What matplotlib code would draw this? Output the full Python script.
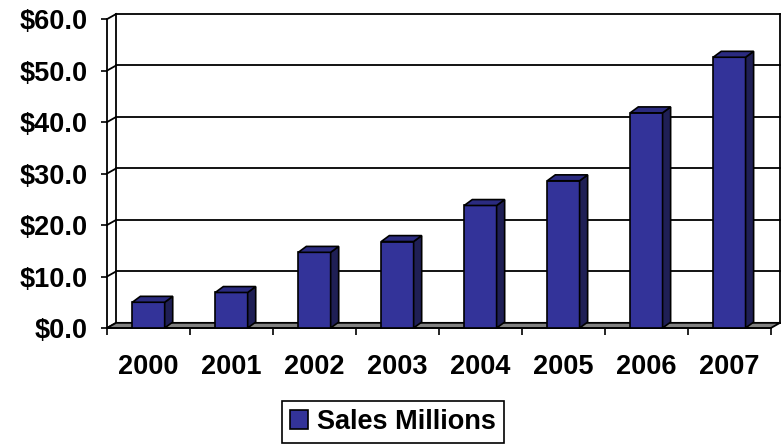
import numpy as np
import matplotlib
matplotlib.use('Agg')
import matplotlib.pyplot as plt
from matplotlib.patches import Polygon

years = ['2000', '2001', '2002', '2003', '2004', '2005', '2006', '2007']
sales = [5.0, 6.9, 14.7, 16.8, 23.8, 28.6, 41.8, 52.6]
y_ticks = [0, 10, 20, 30, 40, 50, 60]
y_labels = ['$0.0', '$10.0', '$20.0', '$30.0', '$40.0', '$50.0', '$60.0']

plt.rcParams['font.family'] = ['Liberation Sans', 'DejaVu Sans']
plt.rcParams['font.weight'] = 'bold'

fig = plt.figure(figsize=(7.82, 4.44), dpi=100)
ax = fig.add_axes([107 / 782, 1 - 328 / 444, (780 - 107) / 782, (328 - 14) / 444])

# fake 3d offsets (wall depth and bar depth)
dx, dy = 0.11, 1.0
bdx, bdy = 0.097, 1.15
bar_w = 0.39

x = np.arange(len(years))
x0, x1 = -0.5, len(years) - 0.5
ax.set_xlim(x0, x1 + dx)
ax.set_ylim(0, y_ticks[-1] + dy)
for s in ax.spines.values():
    s.set_visible(False)

lw = 1.3
# back wall grid + diagonals
for v in y_ticks:
    ax.plot([x0 + dx, x1 + dx], [v + dy, v + dy], color='black', lw=lw, zorder=1, clip_on=False)
    ax.plot([x0, x0 + dx], [v, v + dy], color='black', lw=lw, zorder=1, clip_on=False)
ax.plot([x0 + dx, x0 + dx], [dy, y_ticks[-1] + dy], color='black', lw=lw, zorder=1, clip_on=False)
ax.plot([x1 + dx, x1 + dx], [dy, y_ticks[-1] + dy], color='black', lw=lw, zorder=1, clip_on=False)

# floor
floor = Polygon([[x0, 0], [x1, 0], [x1 + dx, dy], [x0 + dx, dy]], closed=True,
                facecolor='#808080', edgecolor='black', lw=lw, zorder=2, clip_on=False)
ax.add_patch(floor)

# front axis
ax.plot([x0, x0], [0, y_ticks[-1]], color='black', lw=lw, zorder=3, clip_on=False)
ax.plot([x0, x1], [0, 0], color='black', lw=lw, zorder=3, clip_on=False)

bars = ax.bar(x, sales, width=bar_w, color='#333399', edgecolor='black', lw=1.2, zorder=4,
              label='Sales Millions')
for xi, v in zip(x, sales):
    l, r = xi - bar_w / 2, xi + bar_w / 2
    top = Polygon([[l, v], [r, v], [r + bdx, v + bdy], [l + bdx, v + bdy]], closed=True,
                  facecolor='#2b2b80', edgecolor='black', lw=1.2, zorder=4, clip_on=False)
    side = Polygon([[r, 0], [r + bdx, bdy], [r + bdx, v + bdy], [r, v]], closed=True,
                   facecolor='#1f1f55', edgecolor='black', lw=1.2, zorder=4, clip_on=False)
    ax.add_patch(side)
    ax.add_patch(top)

ax.set_yticks(y_ticks, y_labels)
ax.tick_params(axis='y', length=4, width=1.2, pad=10, labelsize=19.5)
ax.set_xticks(x, years)
ax.set_xticks(np.arange(x0, x1 + 0.5), minor=True)
ax.tick_params(axis='x', which='major', length=0, pad=19, labelsize=19.5)
ax.tick_params(axis='x', which='minor', length=5, width=1.2)

leg = fig.legend(handles=[bars], labels=['Sales Millions'], loc='center',
                 bbox_to_anchor=(393 / 782, 1 - 422 / 444), frameon=True, fancybox=False,
                 edgecolor='black', framealpha=1, handlelength=0.65, handleheight=0.65,
                 handletextpad=0.35, borderpad=0.3, borderaxespad=0, fontsize=19.5)
leg.get_frame().set_linewidth(1.2)

fig.savefig('out.png', dpi=100)
